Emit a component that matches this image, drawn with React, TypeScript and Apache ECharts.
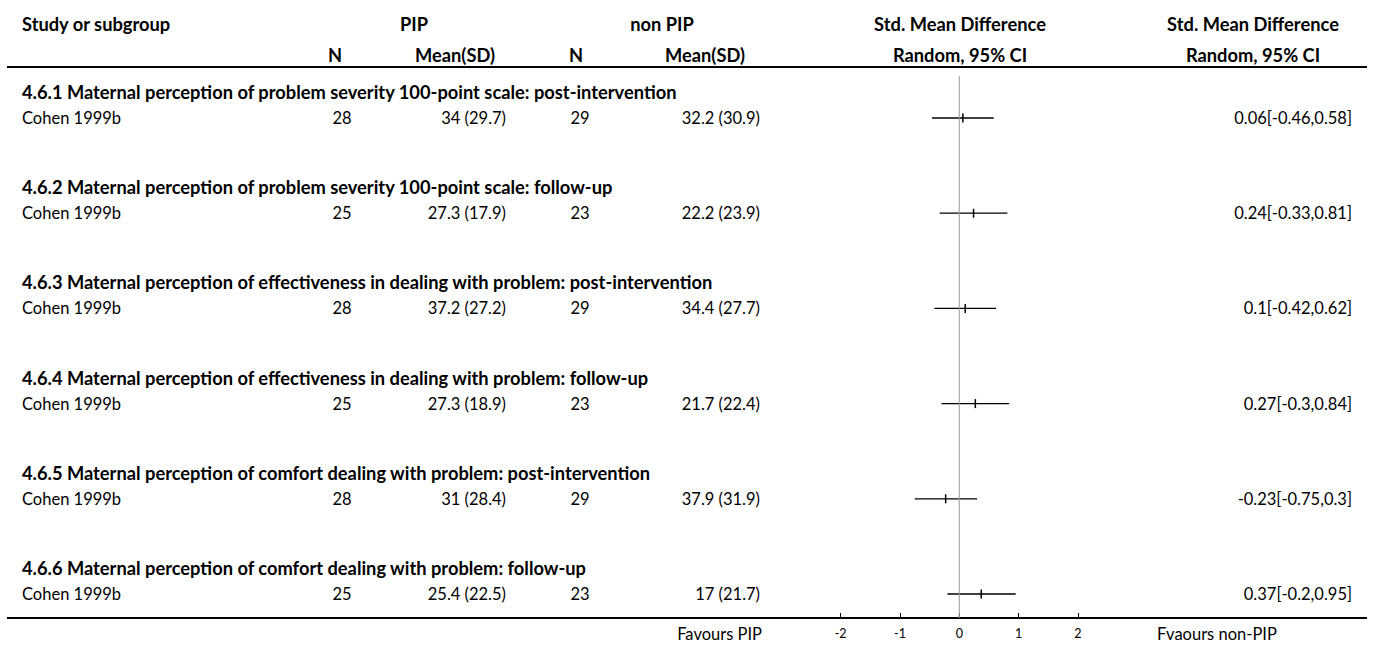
import React, { useEffect, useRef } from "react";
import * as echarts from "echarts";

const groupTitles = [
  "4.6.1 Maternal perception of problem severity 100-point scale: post-intervention",
  "4.6.2 Maternal perception of problem severity 100-point scale: follow-up",
  "4.6.3 Maternal perception of effectiveness in dealing with problem: post-intervention",
  "4.6.4 Maternal perception of effectiveness in dealing with problem: follow-up",
  "4.6.5 Maternal perception of comfort dealing with problem: post-intervention",
  "4.6.6 Maternal perception of comfort dealing with problem: follow-up",
];
const studies = ["Cohen 1999b", "Cohen 1999b", "Cohen 1999b", "Cohen 1999b", "Cohen 1999b", "Cohen 1999b"];
const pipN = [28, 25, 28, 25, 28, 25];
const pipMeanSD = ["34 (29.7)", "27.3 (17.9)", "37.2 (27.2)", "27.3 (18.9)", "31 (28.4)", "25.4 (22.5)"];
const nonN = [29, 23, 29, 23, 29, 23];
const nonMeanSD = ["32.2 (30.9)", "22.2 (23.9)", "34.4 (27.7)", "21.7 (22.4)", "37.9 (31.9)", "17 (21.7)"];
const smd = [0.06, 0.24, 0.1, 0.27, -0.23, 0.37];
const ciLow = [-0.46, -0.33, -0.42, -0.3, -0.75, -0.2];
const ciHigh = [0.58, 0.81, 0.62, 0.84, 0.3, 0.95];
const ciText = ["0.06[-0.46,0.58]", "0.24[-0.33,0.81]", "0.1[-0.42,0.62]", "0.27[-0.3,0.84]", "-0.23[-0.75,0.3]", "0.37[-0.2,0.95]"];
const tickValues = [-2, -1, 0, 1, 2];

const FONT = "Lato, 'Noto Sans', sans-serif";
const FS = 16.5;
const FSB = 18.3;
const ROW_PX = 95.2;
const TOP = 67;
const BOTTOM_LINE = 618;
const Y_MAX = (BOTTOM_LINE - TOP) / ROW_PX;
const HEADER_OFF = (92 - TOP) / ROW_PX;
const STUDY_OFF = (118 - TOP) / ROW_PX;
const ZERO_START = (76 - TOP) / ROW_PX;

export default function App() {
  const ref = useRef<HTMLDivElement>(null);
  useEffect(() => {
    if (!ref.current) return;
    const chart = echarts.init(ref.current, undefined, { renderer: "svg" });
    const txt = (x: number, y: number, s: string, align: string, bold = false, size?: number) => ({
      type: "text",
      x,
      y,
      style: {
        text: s,
        fill: "#000",
        font: `${bold ? "bold " : ""}${size ?? (bold ? FSB : FS)}px ${FONT}`,
        textAlign: align,
        textVerticalAlign: "middle",
      },
    });
    const rowData = groupTitles.map((_, k) => [0, k]);
    const ciData = smd.map((v, k) => [v, k + STUDY_OFF, ciLow[k], ciHigh[k]]);
    chart.setOption({
      animation: false,
      grid: { left: 786, right: 241, top: TOP, bottom: 645 - BOTTOM_LINE, containLabel: false },
      xAxis: {
        type: "value",
        position: "bottom",
        min: -2.92,
        max: 2.91,
        splitLine: { show: false },
        axisLine: { show: true, onZero: false, lineStyle: { color: "#000", width: 1.5 } },
        axisTick: { show: true, inside: true, length: 5, customValues: tickValues, lineStyle: { color: "#000" } },
        axisLabel: { show: true, customValues: tickValues, fontSize: 12.5, color: "#000", fontFamily: FONT, margin: 9 },
      },
      yAxis: {
        type: "value",
        inverse: true,
        min: 0,
        max: Y_MAX,
        show: false,
      },
      graphic: [
        txt(22, 24, "Study or subgroup", "left", true),
        txt(414, 24, "PIP", "center", true),
        txt(662, 24, "non PIP", "center", true),
        txt(960, 24, "Std. Mean Difference", "center", true),
        txt(1253, 24, "Std. Mean Difference", "center", true),
        txt(335, 55, "N", "center", true),
        txt(455, 55, "Mean(SD)", "center", true),
        txt(576, 55, "N", "center", true),
        txt(705, 55, "Mean(SD)", "center", true),
        txt(960, 55, "Random, 95% CI", "center", true),
        txt(1253, 55, "Random, 95% CI", "center", true),
        { type: "line", shape: { x1: 7, y1: TOP, x2: 1367, y2: TOP }, style: { stroke: "#000", lineWidth: 2 } },
        { type: "line", shape: { x1: 7, y1: BOTTOM_LINE, x2: 1367, y2: BOTTOM_LINE }, style: { stroke: "#000", lineWidth: 2 } },
        txt(762, 634, "Favours PIP", "right", false),
        txt(1157, 634, "Fvaours non-PIP", "left", false),
      ],
      series: [
        {
          type: "line",
          data: [
            [0, ZERO_START],
            [0, Y_MAX],
          ],
          symbol: "none",
          lineStyle: { color: "#999", width: 1 },
          silent: true,
        },
        {
          type: "custom",
          clip: false,
          data: rowData,
          encode: { x: 0, y: 1 },
          renderItem: (params: any, api: any) => {
            const k = api.value(1);
            const yh = api.coord([0, k + HEADER_OFF])[1];
            const ys = api.coord([0, k + STUDY_OFF])[1];
            return {
              type: "group",
              children: [
                txt(22, yh, groupTitles[k], "left", true),
                txt(22, ys, studies[k], "left"),
                txt(342, ys, String(pipN[k]), "center"),
                txt(506, ys, pipMeanSD[k], "right"),
                txt(580, ys, String(nonN[k]), "center"),
                txt(760, ys, nonMeanSD[k], "right"),
                txt(1352, ys, ciText[k], "right"),
              ],
            };
          },
        },
        {
          type: "custom",
          clip: false,
          data: ciData,
          encode: { x: [0, 2, 3], y: 1 },
          renderItem: (params: any, api: any) => {
            const y = api.value(1);
            const p = api.coord([api.value(0), y]);
            const l = api.coord([api.value(2), y]);
            const h = api.coord([api.value(3), y]);
            return {
              type: "group",
              children: [
                { type: "line", shape: { x1: l[0], y1: p[1], x2: h[0], y2: p[1] }, style: { stroke: "#000", lineWidth: 1.3 } },
                { type: "line", shape: { x1: p[0], y1: p[1] - 4.5, x2: p[0], y2: p[1] + 4.5 }, style: { stroke: "#000", lineWidth: 1.5 } },
              ],
            };
          },
        },
      ],
    });
    return () => chart.dispose();
  }, []);
  return <div ref={ref} style={{ width: 1373, height: 645, position: "absolute", left: 0, top: 0 }} />;
}
